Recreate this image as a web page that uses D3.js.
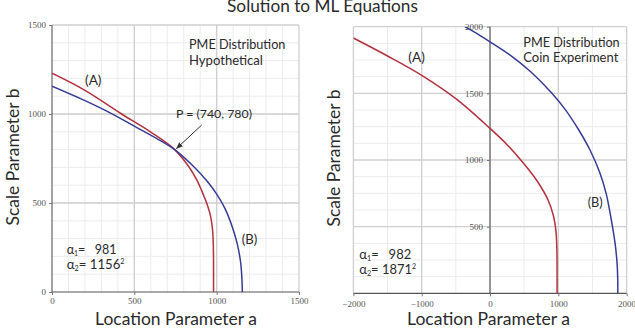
<!DOCTYPE html>
<html><head><meta charset="utf-8">
<script src="https://cdn.jsdelivr.net/npm/d3@7"></script>
<style>body{margin:0;background:#fff} svg{display:block}</style>
</head><body>
<svg id="c" width="635" height="328"></svg>
<script>
// ---------- data ----------
const leftXTicks = [0, 500, 1000, 1500];
const leftYTicks = [0, 500, 1000, 1500];
const rightXTicks = [-2000, -1000, 0, 1000, 2000];
const rightYTicks = [500, 1000, 1500, 2000];
// curve (A) / (B) points [a, b]
const leftA = [[0,1229],[200,1133],[423,1000],[600,898],[745,800],[830,705],[880,628],[920,545],[945,485],[962,430],[975,350],[980,250],[981,120],[981,0]];
const leftB = [[0,1156],[200,1075],[350,1008],[500,932],[650,855],[745,800],[860,705],[940,625],[1000,550],[1050,470],[1097,360],[1125,270],[1145,170],[1153,80],[1156,0]];
const rightA = [[-2000,1915],[-1500,1780],[-1000,1635],[-500,1460],[0,1237],[250,1115],[500,970],[700,835],[850,700],[930,580],[965,470],[978,350],[982,200],[982,0]];
const rightB = [[-366,2000],[-150,1935],[0,1887],[300,1785],[600,1660],[900,1505],[1100,1380],[1300,1225],[1464,1075],[1600,915],[1700,750],[1780,540],[1830,380],[1860,230],[1870,110],[1871,0]];

const RED = "#b3313d", BLUE = "#363c96";
const svg = d3.select("#c");
const sans = "Lato, 'Open Sans', sans-serif";

function fit(sel, w) {
  const n = sel.node(); const cur = n.getComputedTextLength();
  const fs = parseFloat(sel.attr("font-size"));
  sel.attr("font-size", (fs * w / cur).toFixed(2));
  return sel;
}

// ---------- scales ----------
const xL = d3.scaleLinear().domain([0, 1500]).range([52, 299]);
const yL = d3.scaleLinear().domain([0, 1500]).range([292, 25]);
const xR = d3.scaleLinear().domain([-2000, 2000]).range([353.4, 626.6]);
const yR = d3.scaleLinear().domain([0, 2000]).range([293.3, 26.7]);

function grid(g, x, y, xMinor, yMinor, xMajor, yMajor) {
  const [x0, x1] = x.range(), [y0, y1] = y.range();
  g.selectAll(".mx").data(xMinor).join("line").attr("x1", d => x(d)).attr("x2", d => x(d))
    .attr("y1", y0).attr("y2", y1).attr("stroke", "#ececec").attr("stroke-width", 1);
  g.selectAll(".my").data(yMinor).join("line").attr("y1", d => y(d)).attr("y2", d => y(d))
    .attr("x1", x0).attr("x2", x1).attr("stroke", "#ececec").attr("stroke-width", 1);
  g.selectAll(".Mx").data(xMajor).join("line").attr("x1", d => x(d)).attr("x2", d => x(d))
    .attr("y1", y0).attr("y2", y1).attr("stroke", "#cfcfcf").attr("stroke-width", 1.3);
  g.selectAll(".My").data(yMajor).join("line").attr("y1", d => y(d)).attr("y2", d => y(d))
    .attr("x1", x0).attr("x2", x1).attr("stroke", "#cfcfcf").attr("stroke-width", 1.3);
}

function styleAxis(g) {
  g.selectAll("text").attr("font-family", "'Liberation Serif', serif").attr("font-size", 9).attr("fill", "#555");
  g.selectAll("line").attr("stroke", "#777");
  g.select(".domain").remove();
}
const plain = d => d < 0 ? "\u2212" + Math.abs(d) : String(d);

// ---------- left chart ----------
const gL = svg.append("g");
grid(gL.append("g"), xL, yL,
  d3.range(100, 1500, 100), d3.range(100, 1500, 100), [500, 1000, 1500], [500, 1000, 1500]);
gL.append("line").attr("x1", xL(0)).attr("x2", xL(0)).attr("y1", yL(0)).attr("y2", yL(1500)).attr("stroke", "#666").attr("stroke-width", 1.2);
gL.append("line").attr("x1", xL(0)).attr("x2", xL(1500)).attr("y1", yL(0)).attr("y2", yL(0)).attr("stroke", "#555").attr("stroke-width", 1.2);
gL.append("g").attr("transform", `translate(${xL(0)},0)`)
  .call(d3.axisLeft(yL).tickValues(leftYTicks).tickSize(3).tickPadding(3).tickFormat(plain)).call(styleAxis);
gL.append("g").attr("transform", `translate(0,${yL(0)})`)
  .call(d3.axisBottom(xL).tickValues(leftXTicks).tickSize(3).tickPadding(3).tickFormat(plain)).call(styleAxis);

svg.append("clipPath").attr("id", "clipL").append("rect")
  .attr("x", xL(0)).attr("y", yL(1500)).attr("width", xL(1500) - xL(0)).attr("height", yL(0) - yL(1500));
const lineL = d3.line().x(d => xL(d[0])).y(d => yL(d[1])).curve(d3.curveCatmullRom.alpha(0.5));
gL.append("path").attr("d", lineL(leftA)).attr("fill", "none").attr("stroke", RED).attr("stroke-width", 1.5).attr("clip-path", "url(#clipL)");
gL.append("path").attr("d", lineL(leftB)).attr("fill", "none").attr("stroke", BLUE).attr("stroke-width", 1.5).attr("clip-path", "url(#clipL)");

// ---------- right chart ----------
const gR = svg.append("g");
grid(gR.append("g"), xR, yR,
  d3.range(-1500, 2000, 1000), d3.range(125, 2000, 125).filter(d => d % 500), [-2000, -1000, 1000, 2000], [500, 1000, 1500, 2000]);
gR.append("line").attr("x1", xR(0)).attr("x2", xR(0)).attr("y1", yR(0)).attr("y2", yR(2000)).attr("stroke", "#8a8a8a").attr("stroke-width", 1.8);
gR.append("line").attr("x1", xR(-2000)).attr("x2", xR(2000)).attr("y1", yR(0)).attr("y2", yR(0)).attr("stroke", "#555").attr("stroke-width", 1.2);
gR.append("g").attr("transform", `translate(${xR(0)},0)`)
  .call(d3.axisLeft(yR).tickValues(rightYTicks).tickSize(3).tickPadding(4).tickFormat(plain)).call(styleAxis);
gR.append("g").attr("transform", `translate(0,${yR(0)})`)
  .call(d3.axisBottom(xR).tickValues(rightXTicks).tickSize(3).tickPadding(4).tickFormat(plain)).call(styleAxis);

svg.append("clipPath").attr("id", "clipR").append("rect")
  .attr("x", xR(-2000)).attr("y", yR(2000)).attr("width", xR(2000) - xR(-2000)).attr("height", yR(0) - yR(2000));
const lineR = d3.line().x(d => xR(d[0])).y(d => yR(d[1])).curve(d3.curveCatmullRom.alpha(0.5));
gR.append("path").attr("d", lineR(rightA)).attr("fill", "none").attr("stroke", RED).attr("stroke-width", 1.5).attr("clip-path", "url(#clipR)");
gR.append("path").attr("d", lineR(rightB)).attr("fill", "none").attr("stroke", BLUE).attr("stroke-width", 1.5).attr("clip-path", "url(#clipR)");

// ---------- texts ----------
function txt(x, y, s, fs, anchor) {
  return svg.append("text").attr("x", x).attr("y", y).attr("font-family", sans).attr("font-size", fs)
    .attr("fill", "#2a2a2a").attr("text-anchor", anchor || "start").text(s);
}
fit(txt(322.5, 12, "Solution to ML Equations", 16, "middle"), 191);
fit(txt(176, 325, "Location Parameter a", 18, "middle"), 162);
fit(txt(488.5, 324.5, "Location Parameter a", 18, "middle"), 163);
fit(svg.append("text").attr("transform", "translate(18.5,157) rotate(-90)").attr("text-anchor", "middle")
  .attr("font-family", sans).attr("font-size", 18).attr("fill", "#2a2a2a").text("Scale Parameter b"), 137);
fit(svg.append("text").attr("transform", "translate(340,158) rotate(-90)").attr("text-anchor", "middle")
  .attr("font-family", sans).attr("font-size", 18).attr("fill", "#2a2a2a").text("Scale Parameter b"), 137);

fit(txt(189, 49, "PME Distribution", 13), 96.5);
fit(txt(189, 65, "Hypothetical", 13), 74);
fit(txt(523.3, 46.7, "PME Distribution", 13), 96.5);
fit(txt(523.3, 62.3, "Coin Experiment", 13), 95);
fit(txt(85, 85, "(A)", 12), 16.5);
fit(txt(241.7, 243.5, "(B)", 12), 15.5);
fit(txt(408.3, 61.7, "(A)", 12), 16.5);
fit(txt(587.7, 206.7, "(B)", 12), 15);
fit(txt(176, 118.3, "P = (740, 780)", 12.5), 76);

// arrow
svg.append("defs").append("marker").attr("id", "ah").attr("viewBox", "0 0 10 10").attr("refX", 9).attr("refY", 5)
  .attr("markerWidth", 7).attr("markerHeight", 7).attr("orient", "auto")
  .append("path").attr("d", "M0,1 L10,5 L0,9 Z").attr("fill", "#333");
svg.append("line").attr("x1", 201.7).attr("y1", 125).attr("x2", 176.5).attr("y2", 148.5)
  .attr("stroke", "#333").attr("stroke-width", 1).attr("marker-end", "url(#ah)");

function alpha(x, y, sub, rest, sup, w) {
  const t = svg.append("text").attr("x", x).attr("y", y).attr("font-family", sans).attr("font-size", 12.5).attr("fill", "#2a2a2a")
    .attr("xml:space", "preserve").style("white-space", "pre");
  t.append("tspan").text("\u03b1");
  t.append("tspan").attr("font-size", 7).attr("dy", 2).text(sub);
  t.append("tspan").attr("dy", -2).text(rest);
  if (sup) t.append("tspan").attr("font-size", 7).attr("dy", -5).text(sup);
  fit(t, w);
  t.selectAll("tspan").filter((d, i) => i === 1 || i === 3).attr("font-size", parseFloat(t.attr("font-size")) * 0.55);
}
alpha(66.7, 254.3, "1", "=   981", null, 50);
alpha(66.7, 269.3, "2", "= 1156", "2", 58);
alpha(359.3, 259.3, "1", "=   982", null, 52);
alpha(359.3, 274.3, "2", "= 1871", "2", 57);
</script>
</body></html>
